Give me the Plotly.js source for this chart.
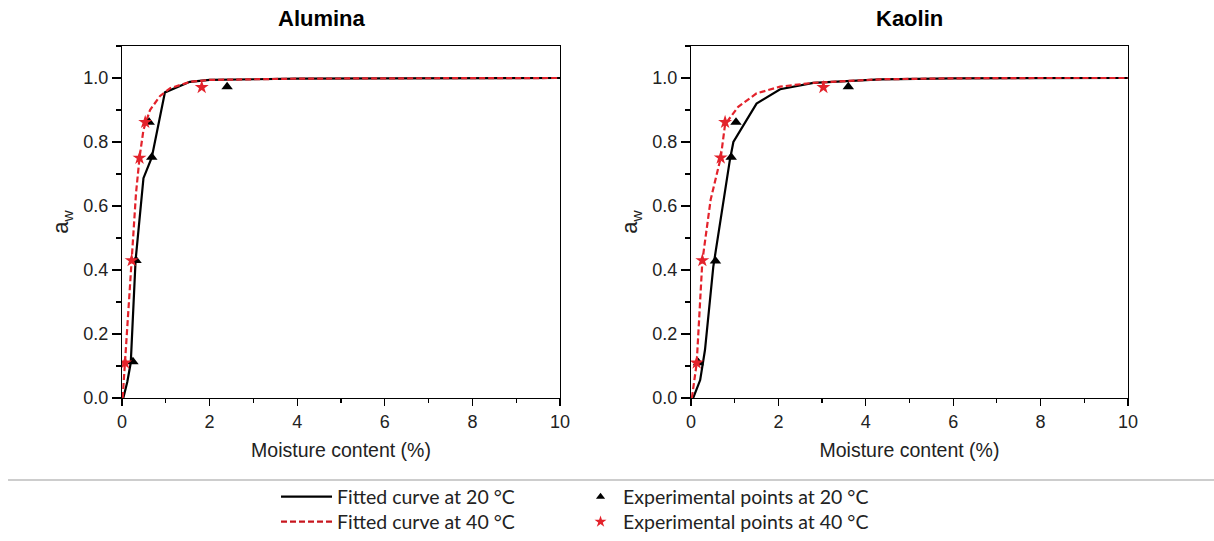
<!DOCTYPE html>
<html>
<head>
<meta charset="utf-8">
<script src="https://cdn.plot.ly/plotly-3.0.1.min.js"></script>
<style>html,body{margin:0;padding:0;background:#fff;overflow:hidden;}</style>
</head>
<body>
<div id="chart" style="width:1214px;height:580px;"></div>
<script>
// ---- Data ----
const panelTitles = ["Alumina", "Kaolin"];
const seriesNames = ["Fitted curve at 20 °C", "Fitted curve at 40 °C", "Experimental points at 20 °C", "Experimental points at 40 °C"];

// Alumina
const aluFit20X = [0.03, 0.12, 0.20, 0.31, 0.49, 0.68, 0.98, 1.55, 2.0, 3.0, 4.0, 6.0, 8.0, 10.0];
const aluFit20Y = [0.0, 0.05, 0.11, 0.43, 0.687, 0.752, 0.955, 0.988, 0.994, 0.997, 0.998, 0.999, 1.0, 1.0];
const aluFit40X = [0.015, 0.07, 0.145, 0.22, 0.32, 0.40, 0.49, 0.64, 0.87, 1.10, 1.55, 2.0, 3.0, 4.0, 6.0, 8.0, 10.0];
const aluFit40Y = [0.0, 0.11, 0.265, 0.426, 0.64, 0.751, 0.838, 0.90, 0.944, 0.968, 0.988, 0.994, 0.997, 0.998, 0.999, 1.0, 1.0];
const aluExp20X = [0.25, 0.32, 0.68, 0.62, 2.40];
const aluExp20Y = [0.113, 0.43, 0.752, 0.862, 0.973];
const aluExp40X = [0.07, 0.22, 0.40, 0.53, 1.82];
const aluExp40Y = [0.11, 0.43, 0.75, 0.862, 0.971];

// Kaolin
const kaoFit20X = [0.05, 0.21, 0.32, 0.51, 0.89, 0.97, 1.50, 2.04, 2.80, 4.33, 6.0, 8.0, 10.0];
const kaoFit20Y = [0.0, 0.056, 0.15, 0.41, 0.744, 0.80, 0.92, 0.965, 0.985, 0.996, 0.999, 1.0, 1.0];
const kaoFit40X = [0.02, 0.13, 0.26, 0.45, 0.68, 0.78, 1.08, 1.50, 2.04, 2.80, 4.33, 6.0, 8.0, 10.0];
const kaoFit40Y = [0.0, 0.108, 0.428, 0.62, 0.751, 0.855, 0.91, 0.952, 0.973, 0.985, 0.996, 0.999, 1.0, 1.0];
const kaoExp20X = [0.17, 0.56, 0.92, 1.03, 3.60];
const kaoExp20Y = [0.11, 0.428, 0.752, 0.862, 0.973];
const kaoExp40X = [0.13, 0.26, 0.68, 0.78, 3.03];
const kaoExp40Y = [0.11, 0.43, 0.751, 0.862, 0.971];

const xTicks = [0, 2, 4, 6, 8, 10];
const yTicks = [0.0, 0.2, 0.4, 0.6, 0.8, 1.0];

// ---- Styles ----
const BLACK = "#000000";
const RED = "#e3222b";
const DASH = "6px,3px";
const axisFont = {family: "Liberation Sans, Arial, sans-serif", size: 18, color: "#222"};
const xTitleFont = {family: "Liberation Sans, Arial, sans-serif", size: 19.5, color: "#222"};

function fitTrace(x, y, name, dash, color, xa, ya, show, legend) {
  return {type: "scatter", mode: "lines", x: x, y: y, name: name,
    line: {color: color, width: 2.2, dash: dash}, xaxis: xa, yaxis: ya,
    showlegend: show, legend: legend, hoverinfo: "skip"};
}
function ptTrace(x, y, name, symbol, color, size, xa, ya, show, legend) {
  return {type: "scatter", mode: "markers", x: x, y: y, name: name,
    marker: {symbol: symbol, color: color, size: size, line: {width: 0}},
    xaxis: xa, yaxis: ya, showlegend: show, legend: legend, hoverinfo: "skip"};
}

const traces = [
  fitTrace(aluFit20X, aluFit20Y, seriesNames[0], "solid", BLACK, "x", "y", false, "legend"),
  fitTrace(aluFit40X, aluFit40Y, seriesNames[1], DASH, RED, "x", "y", false, "legend"),
  ptTrace(aluExp20X, aluExp20Y, seriesNames[2], "triangle-up", BLACK, 10, "x", "y", false, "legend"),
  ptTrace(aluExp40X, aluExp40Y, seriesNames[3], "star", RED, 10.5, "x", "y", false, "legend"),
  fitTrace(kaoFit20X, kaoFit20Y, seriesNames[0], "solid", BLACK, "x2", "y2", false, "legend"),
  fitTrace(kaoFit40X, kaoFit40Y, seriesNames[1], DASH, RED, "x2", "y2", false, "legend"),
  ptTrace(kaoExp20X, kaoExp20Y, seriesNames[2], "triangle-up", BLACK, 10, "x2", "y2", false, "legend"),
  ptTrace(kaoExp40X, kaoExp40Y, seriesNames[3], "star", RED, 10.5, "x2", "y2", false, "legend"),
  // legend entries (no data drawn)
  fitTrace([null], [null], seriesNames[0], "solid", BLACK, "x", "y", true, "legend"),
  fitTrace([null], [null], seriesNames[1], DASH, "#c8161e", "x", "y", true, "legend2"),
  ptTrace([null], [null], seriesNames[2], "triangle-up", BLACK, 8, "x", "y", true, "legend3"),
  ptTrace([null], [null], seriesNames[3], "star", RED, 9, "x", "y", true, "legend4")
];

function xAxis(domain, anchor) {
  return {domain: domain, anchor: anchor, range: [0, 10], tickvals: xTicks,
    showgrid: false, zeroline: false, showline: true, linecolor: "#000", linewidth: 1.2, mirror: true,
    ticks: "outside", ticklen: 7, tickwidth: 1.2, tickcolor: "#000", tickfont: axisFont,
    minor: {dtick: 1, ticks: "outside", ticklen: 4, tickwidth: 1.2, tickcolor: "#000", showgrid: false},
    title: {text: "Moisture content (%)", font: xTitleFont, standoff: 12}};
}
function yAxis(anchor) {
  return {domain: [0, 1], anchor: anchor, range: [0, 1.1], tickvals: yTicks, tickformat: ".1f",
    showgrid: false, zeroline: false, showline: true, linecolor: "#000", linewidth: 1.2, mirror: true,
    ticks: "outside", ticklen: 9, tickwidth: 1.2, tickcolor: "#000", tickfont: axisFont,
    minor: {dtick: 0.1, ticks: "outside", ticklen: 4.5, tickwidth: 1.2, tickcolor: "#000", showgrid: false},
    title: {text: "a<sub>w</sub>", font: {family: "Liberation Sans, Arial, sans-serif", size: 22, color: "#222"}, standoff: 8}};
}

const legendFont = {family: "Lato, Open Sans, sans-serif", size: 19.5, color: "#222"};
function leg(x, y, iw) {
  return {x: x, y: y, xanchor: "left", yanchor: "top", orientation: "v",
    bgcolor: "rgba(0,0,0,0)", borderwidth: 0, itemwidth: iw, font: legendFont};
}

const layout = {
  width: 1214, height: 580,
  margin: {l: 122, r: 86, t: 46, b: 182},
  paper_bgcolor: "#fff", plot_bgcolor: "#fff",
  showlegend: true,
  xaxis: xAxis([0, 0.4354], "y"),
  yaxis: yAxis("x"),
  xaxis2: xAxis([0.5656, 1], "y2"),
  yaxis2: yAxis("x2"),
  legend: leg(0.1531, -0.2259, 51),
  legend2: leg(0.1531, -0.2969, 51),
  legend3: leg(0.4533, -0.2259, 35),
  legend4: leg(0.4533, -0.2969, 35),
  annotations: [
    {text: "<b>" + panelTitles[0] + "</b>", xref: "paper", yref: "paper", x: 0.1988, y: 1.0795,
      xanchor: "center", yanchor: "middle",
      showarrow: false, font: {family: "Liberation Sans, Arial, sans-serif", size: 22, color: "#000"}},
    {text: "<b>" + panelTitles[1] + "</b>", xref: "paper", yref: "paper", x: 0.7833, y: 1.0795,
      xanchor: "center", yanchor: "middle",
      showarrow: false, font: {family: "Liberation Sans, Arial, sans-serif", size: 22, color: "#000"}}
  ],
  shapes: [
    {type: "line", xref: "paper", yref: "paper", x0: -0.1133, x1: 1.0855, y0: -0.233, y1: -0.233,
      line: {color: "#bdbdbd", width: 1.5}}
  ]
};

Plotly.newPlot("chart", traces, layout, {displayModeBar: false, staticPlot: true});
</script>
</body>
</html>
